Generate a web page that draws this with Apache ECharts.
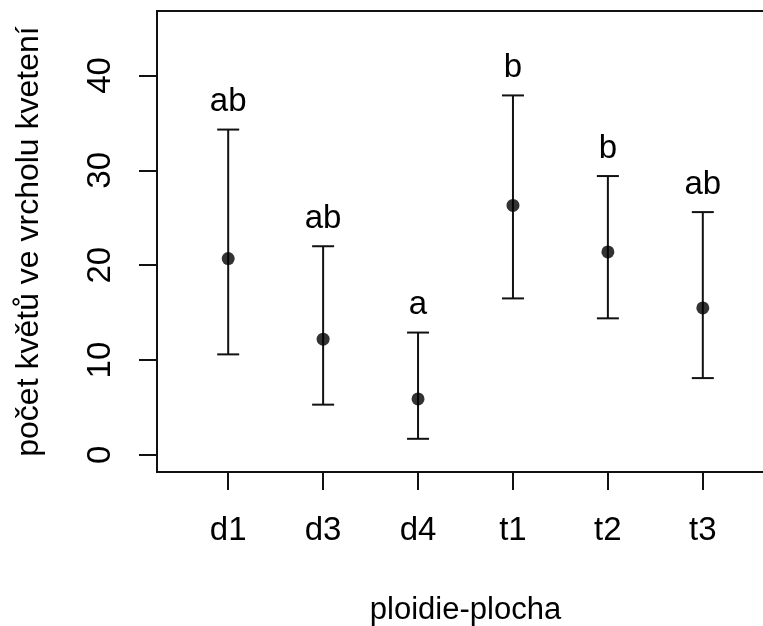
<!DOCTYPE html>
<html>
<head>
<meta charset="utf-8">
<script src="https://cdn.jsdelivr.net/npm/echarts@6/dist/echarts.min.js"></script>
<style>
  html, body { margin: 0; padding: 0; background: #fff; }
  #chart { width: 763px; height: 626px; }
</style>
</head>
<body>
<div id="chart"></div>
<script>
// Flower counts at peak flowering per ploidy/site group: mean with interval bounds
const categories = ['d1', 'd3', 'd4', 't1', 't2', 't3'];
const means = [20.7, 12.2, 5.9, 26.3, 21.4, 15.5];
const upper = [34.3, 22.0, 12.9, 37.9, 29.4, 25.6];
const lower = [10.6, 5.3, 1.7, 16.5, 14.4, 8.1];
const letters = ['ab', 'ab', 'a', 'b', 'b', 'ab'];
const yTicks = [0, 10, 20, 30, 40];

const FONT = 'Liberation Sans, Arial, sans-serif';
const INK = '#111';

const positions = categories.map((c, i) => i + 1);
const pointData = positions.map((x, i) => [x, means[i]]);
const barData = positions.map((x, i) => [x, lower[i], upper[i], i]);

const chart = echarts.init(document.getElementById('chart'), null, { renderer: 'canvas' });

chart.setOption({
  animation: false,
  backgroundColor: '#fff',
  grid: {
    left: 157, top: 11, width: 617, height: 461,
    show: true, borderColor: INK, borderWidth: 2,
    containLabel: false, outerBoundsMode: 'none'
  },
  xAxis: {
    type: 'value', min: 0.25, max: 6.75,
    splitLine: { show: false },
    axisLine: { show: true, onZero: false, lineStyle: { color: INK, width: 2 } },
    axisTick: { show: true, inside: false, length: 18, lineStyle: { color: INK, width: 2 }, customValues: positions },
    axisLabel: {
      customValues: positions, margin: 42,
      formatter: v => categories[Math.round(v) - 1] || '',
      color: '#000', fontSize: 33, fontFamily: FONT
    },
    name: 'ploidie-plocha', nameLocation: 'middle', nameGap: 123,
    nameTextStyle: { color: '#000', fontSize: 31, fontFamily: FONT }
  },
  yAxis: {
    type: 'value', min: -1.8, max: 46.8,
    splitLine: { show: false },
    axisLine: { show: true, onZero: false, lineStyle: { color: INK, width: 2 } },
    axisTick: { show: true, inside: false, length: 18, lineStyle: { color: INK, width: 2 }, customValues: yTicks },
    axisLabel: {
      customValues: yTicks, rotate: 90, margin: 40,
      color: '#000', fontSize: 33, fontFamily: FONT
    },
    name: 'počet květů ve vrcholu kvetení', nameLocation: 'middle', nameRotate: 90, nameGap: 112,
    nameTextStyle: { color: '#000', fontSize: 32, fontFamily: FONT }
  },
  series: [
    {
      // vertical interval bars with end caps and group letters above
      type: 'custom',
      data: barData,
      renderItem: function (params, api) {
        const x = api.value(0);
        const lo = api.coord([x, api.value(1)]);
        const hi = api.coord([x, api.value(2)]);
        const idx = api.value(3);
        const cap = 11;
        const style = { stroke: INK, lineWidth: 2 };
        return {
          type: 'group',
          children: [
            { type: 'line', shape: { x1: lo[0], y1: lo[1], x2: hi[0], y2: hi[1] }, style: style },
            { type: 'line', shape: { x1: hi[0] - cap, y1: hi[1], x2: hi[0] + cap, y2: hi[1] }, style: style },
            { type: 'line', shape: { x1: lo[0] - cap, y1: lo[1], x2: lo[0] + cap, y2: lo[1] }, style: style },
            {
              type: 'text',
              style: {
                x: hi[0], y: hi[1] - 11,
                text: letters[idx],
                fill: '#000', fontSize: 33, fontFamily: FONT,
                align: 'center', verticalAlign: 'bottom'
              }
            }
          ]
        };
      },
      z: 2
    },
    {
      type: 'scatter',
      data: pointData,
      symbol: 'circle',
      symbolSize: 13,
      itemStyle: { color: '#000' },
      z: 3
    }
  ]
});
</script>
</body>
</html>
